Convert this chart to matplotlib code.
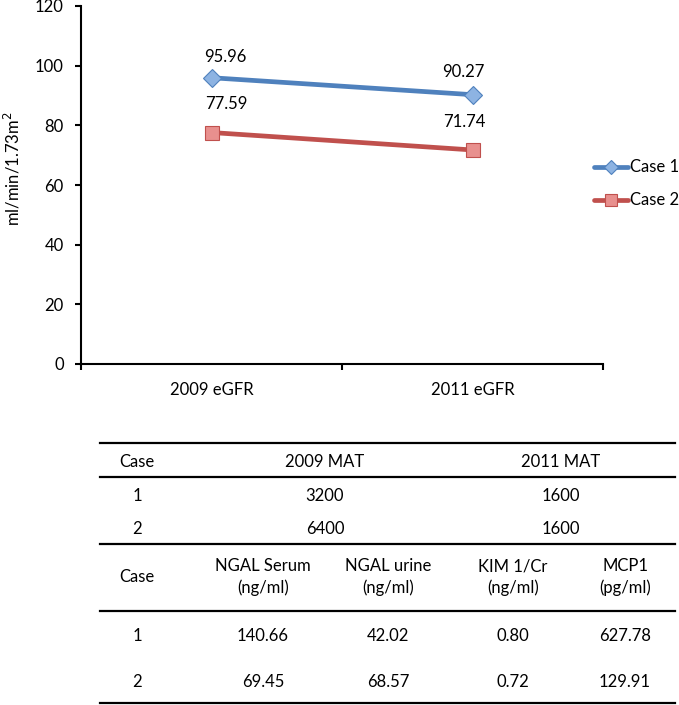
import matplotlib
matplotlib.use("Agg")
import matplotlib.pyplot as plt
from matplotlib.lines import Line2D

plt.rcParams['font.family'] = ['Lato', 'DejaVu Sans']

categories = ["2009 eGFR", "2011 eGFR"]
case1 = [95.96, 90.27]
case2 = [77.59, 71.74]
series_names = ["Case 1", "Case 2"]
y_ticks = [0, 20, 40, 60, 80, 100, 120]

mat_header = ["Case", "2009 MAT", "2011 MAT"]
mat_rows = [["1", "3200", "1600"], ["2", "6400", "1600"]]
bio_header = ["Case", "NGAL Serum\n(ng/ml)", "NGAL urine\n(ng/ml)", "KIM 1/Cr\n(ng/ml)", "MCP1\n(pg/ml)"]
bio_rows = [["1", "140.66", "42.02", "0.80", "627.78"],
            ["2", "69.45", "68.57", "0.72", "129.91"]]

W, H = 679, 705
fig = plt.figure(figsize=(W/100, H/100), dpi=100)
FS = 12

def fx(px): return px / W
def fy(py): return 1 - py / H

ax = fig.add_axes([fx(81), fy(364), fx(603) - fx(81), fy(6) - fy(364)])
x = list(range(len(categories)))
blue, red = "#4F81BD", "#C0504D"
blue_face, red_face = "#8DB3E2", "#E8908E"
ax.plot(x, case1, color=blue, lw=3.4, marker="D", ms=9, mfc=blue_face, mec=blue, mew=0.8,
        solid_capstyle="round", label=series_names[0])
ax.plot(x, case2, color=red, lw=3.4, marker="s", ms=10.5, mfc=red_face, mec=red, mew=0.8,
        solid_capstyle="round", label=series_names[1])

# label offsets in pixels (dx, dy up)
label_offsets = [[(14, 21), (-9, 23)], [(15, 29), (-8, 28)]]
for series, offs in zip((case1, case2), label_offsets):
    for i, v in enumerate(series):
        dx, dy = offs[i]
        ax.annotate(f"{v:.2f}", (x[i], v), xytext=(dx * 0.72, dy * 0.72), textcoords="offset points",
                    ha="center", va="center", fontsize=FS)

ax.set_xlim(-0.5, 1.5)
ax.set_ylim(0, 120)
ax.set_yticks(y_ticks)
ax.set_xticks(x)
ax.set_xticklabels(categories, fontsize=FS)
ax.set_xticks([-0.5, 0.5, 1.5], minor=True)
ax.tick_params(axis="x", which="major", length=0, pad=13)
ax.tick_params(axis="x", which="minor", length=4.5, width=1.5, direction="out")
ax.tick_params(axis="y", length=4.5, width=1.5, direction="out", labelsize=FS, pad=8)
for s in ("top", "right"):
    ax.spines[s].set_visible(False)
for s in ("left", "bottom"):
    ax.spines[s].set_linewidth(1.5)
fig.text(fx(12), fy(169), "ml/min/1.73m$^2$", rotation=90, ha="center", va="center", fontsize=FS)

# Legend drawn manually to keep it inside the figure
leg_y = [167, 200]
styles = [dict(color=blue, marker="D", ms=7.5, mfc=blue_face, mec=blue),
          dict(color=red, marker="s", ms=9, mfc=red_face, mec=red)]
for name, py, st in zip(series_names, leg_y, styles):
    fig.add_artist(Line2D([fx(594), fx(611), fx(628)], [fy(py)] * 3, lw=3.4, markevery=[1],
                          solid_capstyle="round", mew=0.8, **st))
    fig.text(fx(630), fy(py), name, ha="left", va="center", fontsize=FS)

# Tables
x0, x1 = fx(100), fx(675)
def hline(py, lw=1.6):
    fig.add_artist(Line2D([x0, x1], [fy(py), fy(py)], color="black", lw=lw))

for py in (443, 477, 544, 611, 703):
    hline(py)

mat_x = [137, 325, 561]
for cx, t in zip(mat_x, mat_header):
    fig.text(fx(cx), fy(462), t, ha="center", va="center", fontsize=FS)
for py, row in zip([496, 529], mat_rows):
    for cx, t in zip(mat_x, row):
        fig.text(fx(cx), fy(py), t, ha="center", va="center", fontsize=FS)

bio_x = [137, 263, 388, 513, 625]
for cx, t in zip(bio_x, bio_header):
    fig.text(fx(cx), fy(577), t, ha="center", va="center", fontsize=FS, linespacing=1.35)
for py, row in zip([636, 682], bio_rows):
    for cx, t in zip(bio_x, row):
        fig.text(fx(cx), fy(py), t, ha="center", va="center", fontsize=FS)

fig.savefig("out.png", dpi=100)
